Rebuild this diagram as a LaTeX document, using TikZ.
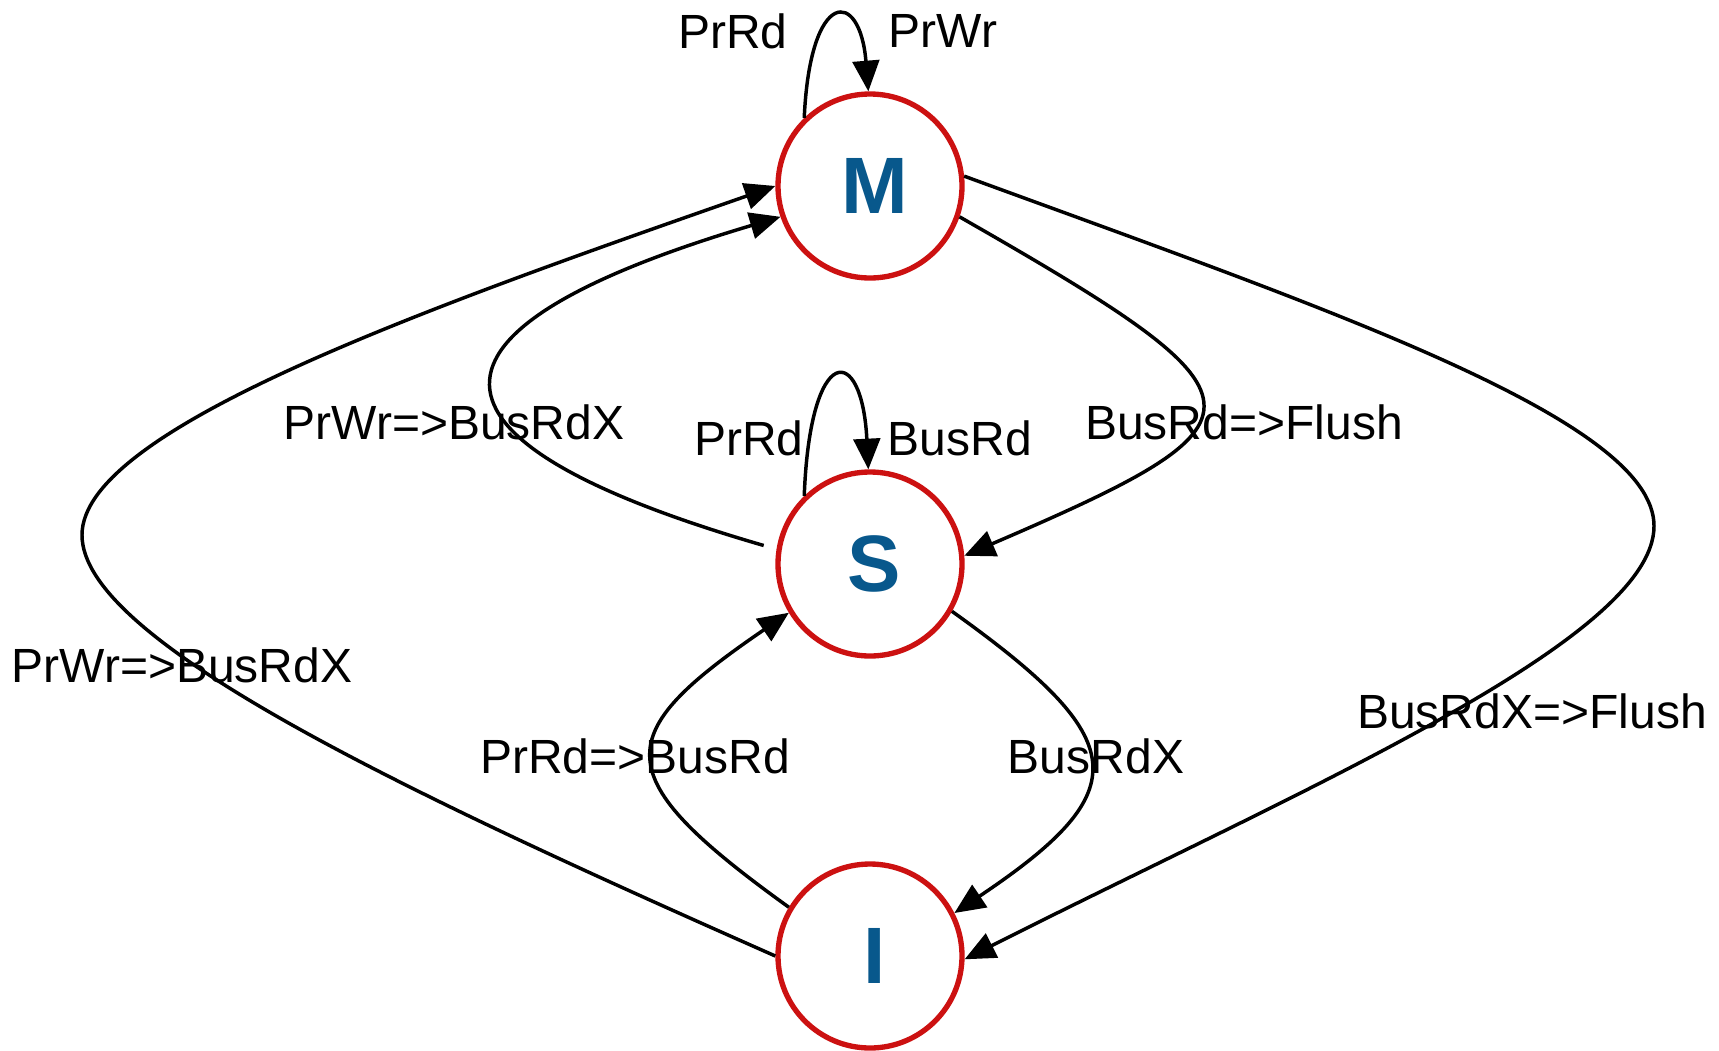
\documentclass[tikz,border=0pt]{standalone}
\usepackage{fontspec}
\setmainfont{Liberation Sans}
\usetikzlibrary{arrows.meta}

\definecolor{stred}{RGB}{204,17,17}
\definecolor{stblue}{RGB}{8,88,140}

\tikzset{every picture/.style={line width=0.75pt}}
\tikzset{
  stnode/.style={circle, draw=stred, fill=white, line width=4pt, minimum size=138pt, inner sep=0pt,
    text=stblue, font=\fontsize{60}{60}\selectfont\bfseries},
  trans/.style={line width=2.6pt, -{Triangle[length=23pt,width=20pt]}},
  lbl/.style={inner sep=0.75pt, font=\fontsize{36}{36}\selectfont},
}

\begin{document}
\begin{tikzpicture}[x=0.75pt,y=0.75pt,yscale=-1,xscale=1]
\useasboundingbox (0,0) rectangle (1719,1050);

%States
\node[stnode] (M) at (870,186) {\hspace*{7pt}M};
\node[stnode] (S) at (870,564) {\hspace*{7pt}S};
\node[stnode] (I) at (870,956) {\hspace*{7pt}I};

%Self loops
\draw[trans] (M.134) .. controls (810,-12) and (860,-12) .. (M.91);
\draw[trans] (S.134) .. controls (810,342) and (862,342) .. (S.91);

%Inner transitions
\draw[trans, shorten <=10pt] (S.171) .. controls (400,440) and (400,330) .. (M.199);
\draw[trans] (M.-19) .. controls (1280,400) and (1280,420) .. (S.5);
\draw[trans] (I.149) .. controls (605,775) and (610,735) .. (S.211);
\draw[trans] (S.-30) .. controls (1132,740) and (1138,790) .. (I.27);

%Outer transitions
\coordinate (wl) at (82,535);
\coordinate (wr) at (1654,526);
\draw[trans] (I.180) .. controls (400,790) and (82,640) .. (wl) .. controls (82,430) and (420,310) .. (M.180);
\draw[trans] (M.6) .. controls (1330,310) and (1654,420) .. (wr) .. controls (1654,640) and (1300,790) .. (I.-2);

% Text Node
\node[lbl] (tPrRdM) at (733,31) {PrRd};
\node[lbl] (tPrWrM) at (943,31) {PrWr};
\node[lbl] (tPrRdS) at (749,438) {PrRd};
\node[lbl] (tBusRdS) at (960,438) {BusRd};
\node[lbl] (tSM) at (454,422) {PrWr=>BusRdX};
\node[lbl] (tMS) at (1244,422) {BusRd=>Flush};
\node[lbl] (tIS) at (635,756) {PrRd=>BusRd};
\node[lbl] (tSI) at (1096,756) {BusRdX};
\node[lbl] (tIM) at (182,665) {PrWr=>BusRdX};
\node[lbl] (tMI) at (1532,711) {BusRdX=>Flush};

\end{tikzpicture}
\end{document}
